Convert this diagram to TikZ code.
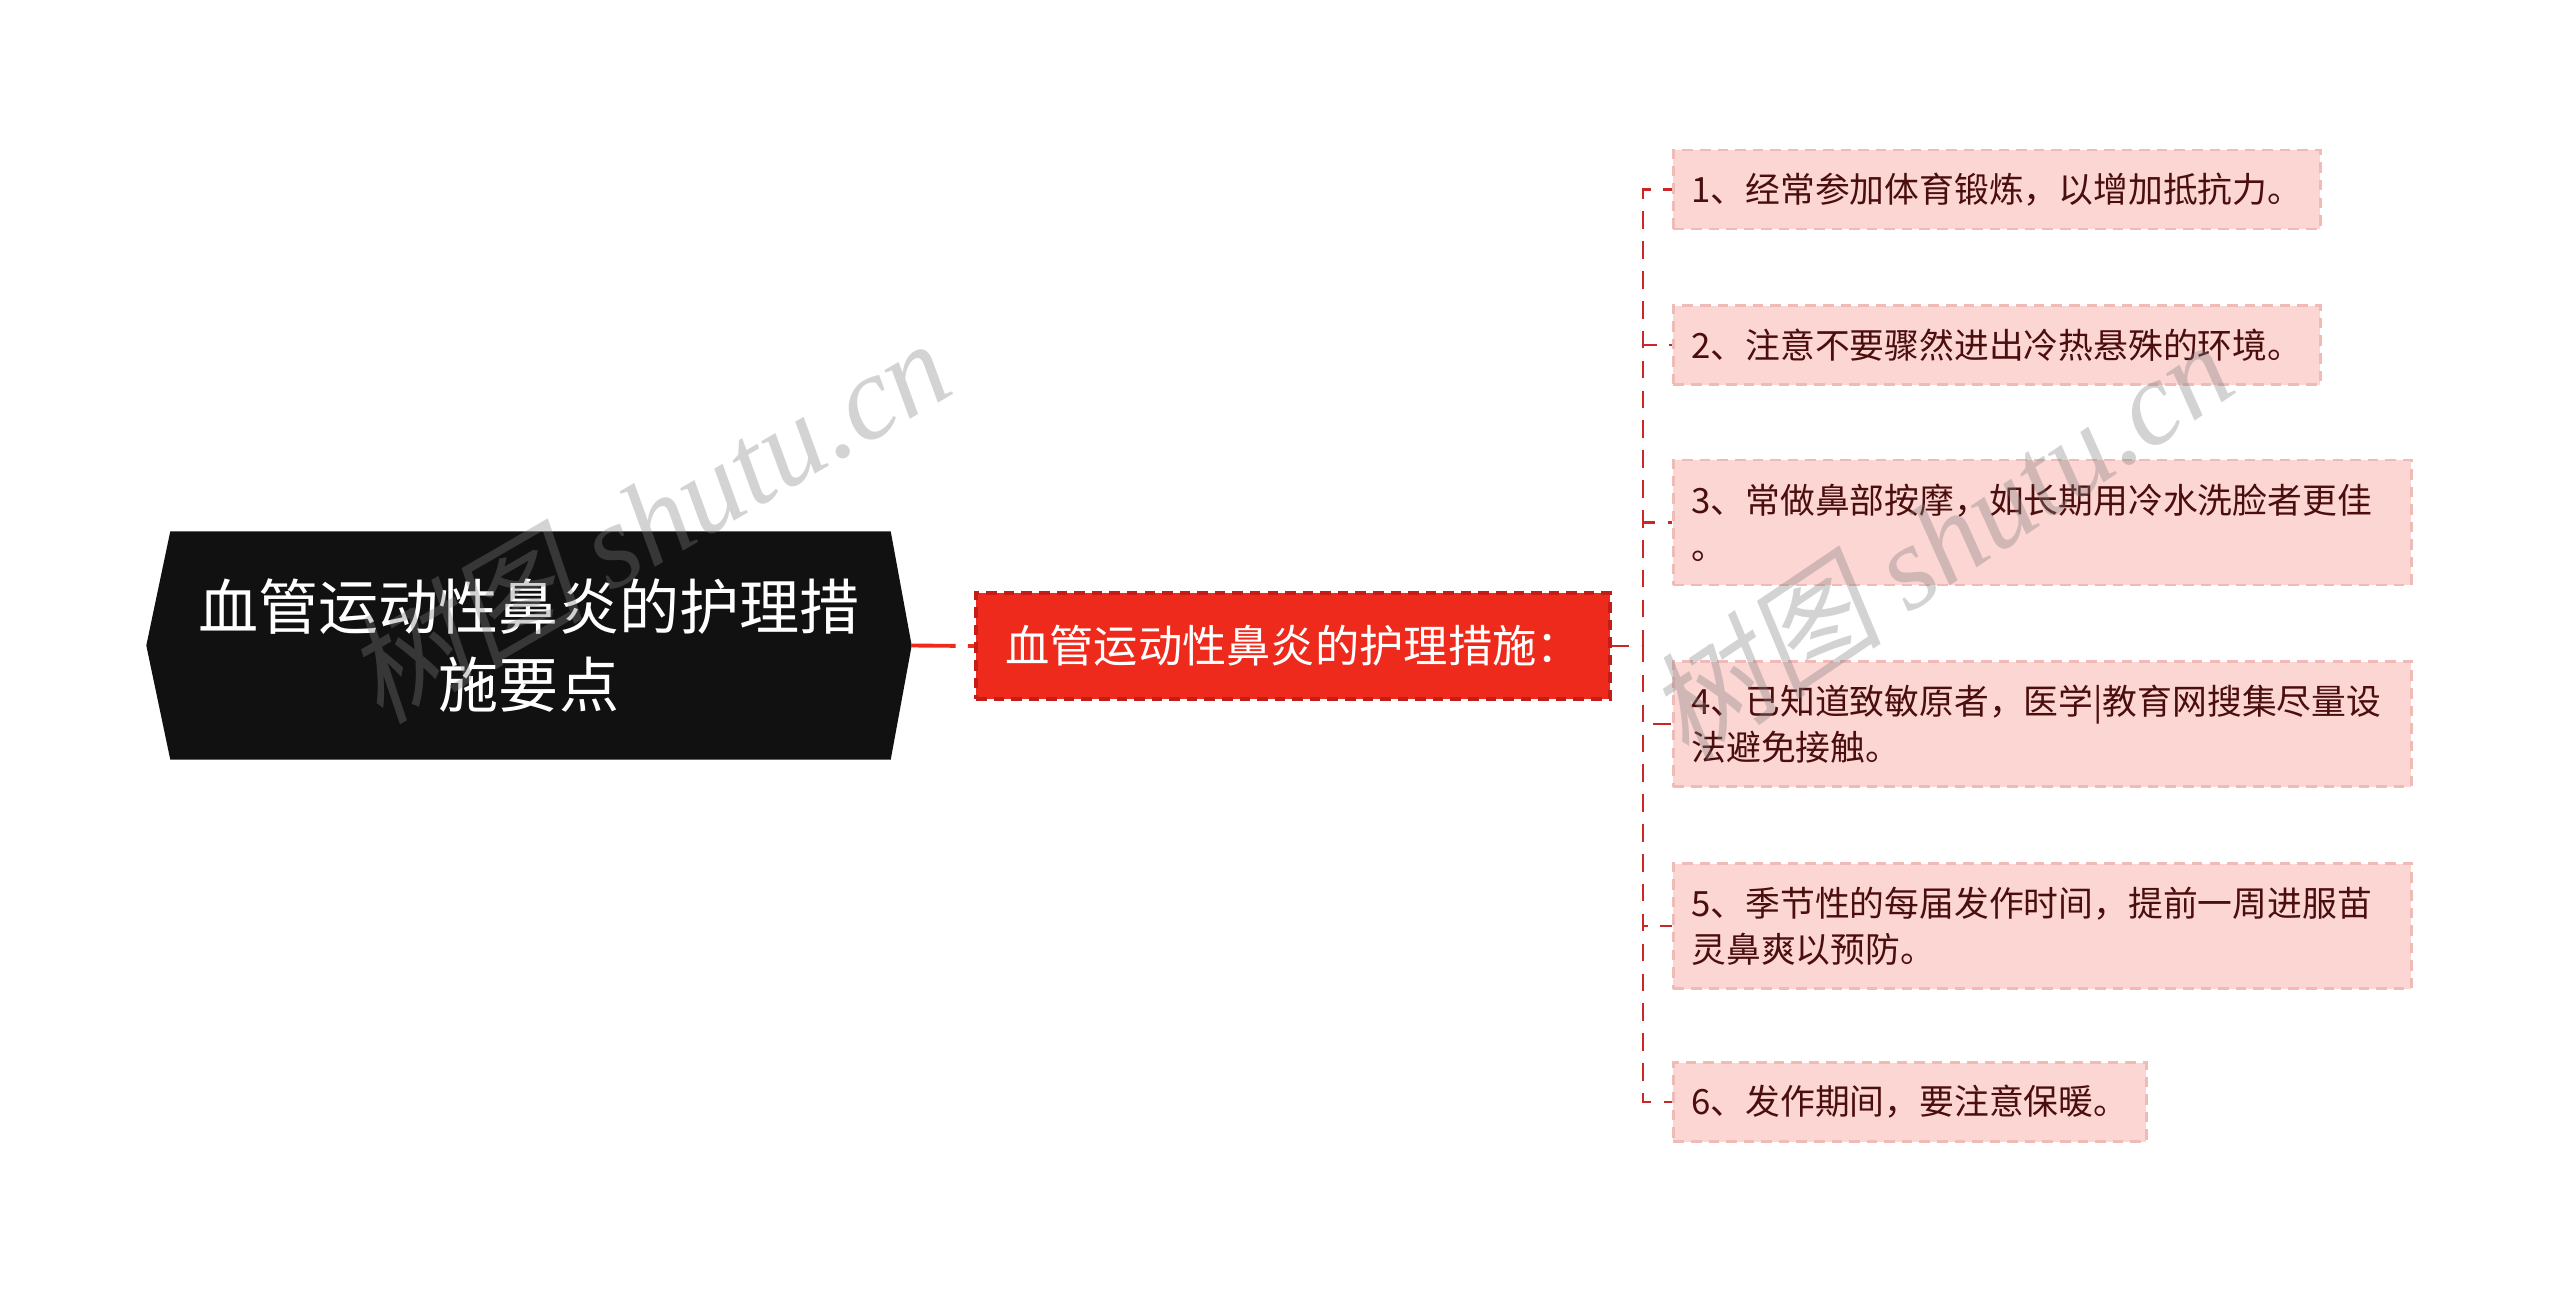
\documentclass[tikz,border=0pt]{standalone}
\usepackage{fontspec}
\setmainfont{Noto Sans CJK SC}
\newfontfamily\wmfont{Liberation Serif}
\newfontfamily\wmcjk[FakeSlant=0.2]{Noto Sans CJK SC}
\usetikzlibrary{backgrounds}
\definecolor{rootblack}{RGB}{17,17,17}
\definecolor{midred}{RGB}{238,42,28}
\definecolor{midborder}{RGB}{196,28,22}
\definecolor{leafpink}{RGB}{252,214,211}
\definecolor{leafborder}{RGB}{240,186,182}
\definecolor{leaftext}{RGB}{75,14,14}
\definecolor{linkred}{RGB}{200,40,40}
\tikzset{
  rootnode/.style={text=white,font=\fontsize{17.1pt}{22.2pt}\selectfont,align=center,
    minimum width=7.64cm,minimum height=2.27cm,inner sep=0pt},
  midnode/.style={fill=midred,draw=midborder,dash pattern=on 3pt off 2pt,line width=1pt,
    text=white,font=\fontsize{12.6pt}{15pt}\selectfont,minimum width=6.34cm,minimum height=1.06cm,inner sep=0pt},
  leafnode/.style={fill=leafpink,draw=leafborder,dash pattern=on 3pt off 2pt,line width=0.8pt,
    text=leaftext,font=\fontsize{9.9pt}{13pt}\selectfont,align=left,anchor=west,
    inner xsep=0.18cm,inner ysep=0pt,minimum height=0.79cm},
  leaflong/.style={leafnode,text width=7.02cm,minimum height=1.25cm},
  link/.style={linkred,line width=0.6pt,dash pattern=on 5pt off 3.5pt},
  wmark/.style={text=gray,opacity=0.35,font=\fontsize{34pt}{34pt}\selectfont}
}
\begin{document}
\begin{tikzpicture}
\useasboundingbox (0,0) rectangle (25.6,-12.93);
% main topic
\node[rootnode] (root) at (5.29,-6.455) {血管运动性鼻炎的护理措\\施要点};
\begin{scope}[on background layer]
\fill[rootblack] (root.west) -- ([xshift=0.24cm]root.north west) -- ([xshift=-0.21cm]root.north east)
  -- (root.east) -- ([xshift=-0.21cm]root.south east) -- ([xshift=0.24cm]root.south west) -- cycle;
\end{scope}
% branch
\node[midnode] (mid) at (12.93,-6.46) {血管运动性鼻炎的护理措施：};
\draw[midred,line width=1.1pt,dash pattern=on 12.5pt off 3.5pt] (root.east) -- (mid.west);
% leaves
\node[leafnode] (c1) at (16.72,-1.895) {1、经常参加体育锻炼，以增加抵抗力。};
\node[leafnode] (c2) at (16.72,-3.45) {2、注意不要骤然进出冷热悬殊的环境。};
\node[leaflong] (c3) at (16.72,-5.225) {3、常做鼻部按摩，如长期用冷水洗脸者更佳\\。};
\node[leaflong] (c4) at (16.72,-7.24) {4、已知道致敏原者，医学|教育网搜集尽量设\\法避免接触。};
\node[leaflong] (c5) at (16.72,-9.26) {5、季节性的每届发作时间，提前一周进服苗\\灵鼻爽以预防。};
\node[leafnode] (c6) at (16.72,-11.02) {6、发作期间，要注意保暖。};
\foreach \i in {1,...,6}
  \draw[link] (mid.east) -- ++(0.31,0) |- (c\i.west);
% watermarks
\node[wmark,rotate=30] (wm1) at (6.47,-5.19) {\wmcjk 树图 \wmfont\itshape shutu.cn};
\node[wmark,rotate=34] (wm2) at (19.39,-5.39) {\wmcjk 树图 \wmfont\itshape shutu.cn};
\end{tikzpicture}
\end{document}
